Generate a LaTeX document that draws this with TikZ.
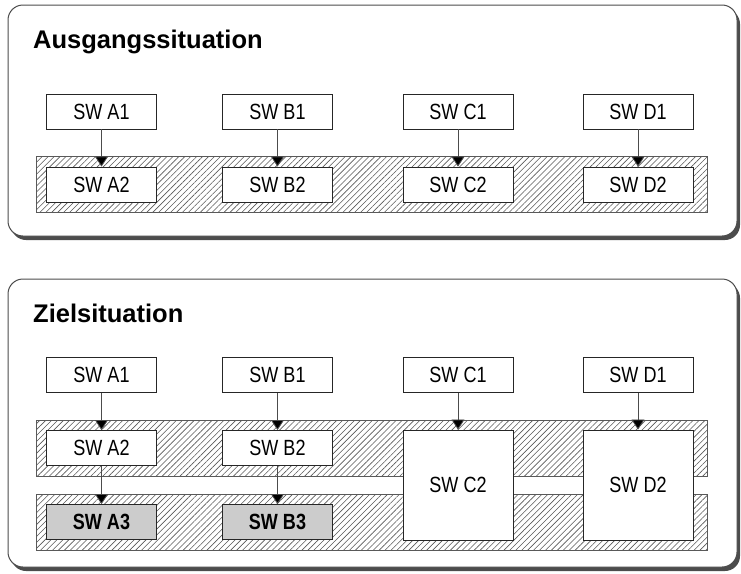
\documentclass[tikz,border=0pt]{standalone}
\usepackage{fontspec}
\setmainfont{Liberation Sans}
\newfontfamily\narrowsans[FakeStretch=0.82]{Liberation Sans}
\usetikzlibrary{arrows.meta,patterns.meta}

\begin{document}
\begin{tikzpicture}[x=1pt,y=-1pt,
  panel/.style={draw=black!70,line width=1pt,fill=white,rounded corners=15pt},
  panelshadow/.style={fill=black!70,rounded corners=15pt},
  band/.style={draw=black!65,line width=0.8pt,
    pattern={Lines[angle=45,distance=4.2pt,line width=0.6pt]},pattern color=black!65},
  swbox/.style={draw=black!85,line width=0.9pt,fill=white,minimum width=110pt,
    minimum height=35pt,inner sep=0pt,font=\narrowsans\fontsize{22}{24}\selectfont},
  newbox/.style={swbox,fill=black!20,font=\narrowsans\fontsize{22}{24}\selectfont\bfseries},
  tallbox/.style={swbox,minimum height=110pt},
  title/.style={anchor=base west,inner sep=0pt,font=\fontsize{25.5}{29}\selectfont\bfseries},
  link/.style={draw=black!70,line width=0.8pt,-{Triangle[width=13pt,length=10pt,fill=black]}}
]
\useasboundingbox (0,0) rectangle (741,573);

% ---------- upper panel: starting point ----------
\fill[panelshadow] (11,9) rectangle (740,240);
\path[panel] (8,5) rectangle (737,236);
\node[title] (t1) at (33,48) {Ausgangssituation};

\path[band] (36,156) rectangle (707,212);

\node[swbox] (a1) at (101.5,111.5) {SW A1};
\node[swbox] (b1) at (277.5,111.5) {SW B1};
\node[swbox] (c1) at (458,111.5) {SW C1};
\node[swbox] (d1) at (638,111.5) {SW D1};

\node[swbox] (a2) at (101.5,184.5) {SW A2};
\node[swbox] (b2) at (277.5,184.5) {SW B2};
\node[swbox] (c2) at (458,184.5) {SW C2};
\node[swbox] (d2) at (638,184.5) {SW D2};

\foreach \n in {a,b,c,d}
  \draw[link] (\n1) -- (\n2);

% ---------- lower panel: target state ----------
\fill[panelshadow] (11,283) rectangle (740,571);
\path[panel] (8,279) rectangle (737,567);
\node[title] (t2) at (33,322) {Zielsituation};

\path[band] (36,420) rectangle (707,476);
\path[band] (36,494) rectangle (707,550);

\node[swbox] (za1) at (101.5,375) {SW A1};
\node[swbox] (zb1) at (277.5,375) {SW B1};
\node[swbox] (zc1) at (458,375) {SW C1};
\node[swbox] (zd1) at (638,375) {SW D1};

\node[swbox] (za2) at (101.5,448) {SW A2};
\node[swbox] (zb2) at (277.5,448) {SW B2};
\node[tallbox] (zc2) at (458,485) {SW C2};
\node[tallbox] (zd2) at (638,485) {SW D2};

\node[newbox] (za3) at (101.5,522) {SW A3};
\node[newbox] (zb3) at (277.5,522) {SW B3};

\draw[link] (za1) -- (za2);
\draw[link] (za2) -- (za3);
\draw[link] (zb1) -- (zb2);
\draw[link] (zb2) -- (zb3);
\draw[link] (zc1) -- (zc2);
\draw[link] (zd1) -- (zd2);
\end{tikzpicture}
\end{document}
